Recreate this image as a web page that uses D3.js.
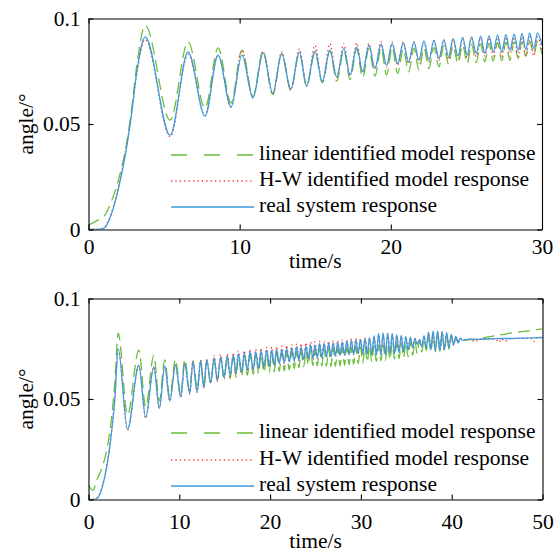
<!DOCTYPE html>
<html>
<head>
<meta charset="utf-8">
<script src="https://cdn.jsdelivr.net/npm/d3@7"></script>
<style>
  body { margin: 0; background: #fff; }
  text { font-family: "Liberation Serif", "Times New Roman", serif; }
</style>
</head>
<body>
<svg id="fig" width="560" height="560"></svg>
<script>
"use strict";

// ---- data (extrema of the oscillations) ----
const series_names = [
  'linear identified model response',
  'H-W identified model response',
  'real system response'
];

// upper panel, time/s
const top_t = [
  0, 0.5, 1.0, 1.5, 2.0, 2.5, 2.8, 3.2,
  3.75, 5.4, 6.59, 7.71, 8.57, 9.43, 10.15, 10.88, 11.55,
  12.19, 12.78, 13.38, 13.95, 14.43, 14.98, 15.47, 15.97, 16.42, 16.89,
  17.30, 17.74, 18.14, 18.55, 18.95, 19.35, 19.72, 20.09, 20.45, 20.82,
  21.18, 21.53, 21.86, 22.19, 22.52, 22.85, 23.18, 23.51, 23.82, 24.12,
  24.44, 24.75, 25.05, 25.34, 25.65, 25.94, 26.22, 26.50, 26.77, 27.06,
  27.34, 27.61, 27.87, 28.16, 28.42, 28.68, 28.93, 29.19, 29.46, 29.70,
  30.0
];
const top_real = [
  0, 0, 0.0005, 0.007, 0.02, 0.038, 0.052, 0.075,
  0.0913, 0.0447, 0.0842, 0.0537, 0.0826, 0.0581, 0.0826, 0.0624, 0.0837,
  0.0645, 0.0834, 0.0664, 0.0842, 0.0681, 0.0847, 0.0700, 0.0850, 0.0723, 0.0858,
  0.0731, 0.0865, 0.0747, 0.0873, 0.0763, 0.0878, 0.0778, 0.0881, 0.0786, 0.0884,
  0.0794, 0.0889, 0.0802, 0.0894, 0.0802, 0.0897, 0.0810, 0.0900, 0.0818, 0.0905,
  0.0821, 0.0910, 0.0826, 0.0913, 0.0834, 0.0916, 0.0834, 0.0918, 0.0841, 0.0921,
  0.0841, 0.0924, 0.0849, 0.0926, 0.0849, 0.0929, 0.0853, 0.0930, 0.0857, 0.0932,
  0.0875
];
const top_linear = [
  0.002, 0.004, 0.006, 0.013, 0.024, 0.040, 0.054, 0.078,
  0.0968, 0.0518, 0.0889, 0.0575, 0.0861, 0.0600, 0.0850, 0.0630, 0.0845,
  0.0640, 0.0832, 0.0660, 0.0838, 0.0680, 0.0840, 0.0695, 0.0848, 0.0703, 0.0850,
  0.0711, 0.0855, 0.0720, 0.0858, 0.0727, 0.0860, 0.0733, 0.0862, 0.0739, 0.0855,
  0.0747, 0.0858, 0.0755, 0.0860, 0.0763, 0.0862, 0.0771, 0.0870, 0.0783, 0.0872,
  0.0787, 0.0875, 0.0787, 0.0877, 0.0791, 0.0880, 0.0794, 0.0882, 0.0798, 0.0885,
  0.0800, 0.0888, 0.0802, 0.0889, 0.0810, 0.0890, 0.0821, 0.0890, 0.0831, 0.0890,
  0.0830
];
const top_hw = [
  0, 0, 0.0008, 0.0075, 0.021, 0.039, 0.053, 0.074,
  0.0900, 0.0440, 0.0830, 0.0540, 0.0826, 0.0580, 0.0850, 0.0624, 0.0845,
  0.0640, 0.0842, 0.0660, 0.0855, 0.0680, 0.0873, 0.0698, 0.0881, 0.0720, 0.0881,
  0.0730, 0.0884, 0.0745, 0.0881, 0.0760, 0.0889, 0.0770, 0.0889, 0.0778, 0.0889,
  0.0785, 0.0890, 0.0790, 0.0890, 0.0795, 0.0895, 0.0800, 0.0897, 0.0805, 0.0900,
  0.0810, 0.0905, 0.0815, 0.0905, 0.0820, 0.0908, 0.0822, 0.0910, 0.0822, 0.0910,
  0.0822, 0.0912, 0.0822, 0.0912, 0.0822, 0.0913, 0.0822, 0.0913, 0.0822, 0.0913,
  0.0840
];

// lower panel, time/s
const bot_t = [
  0, 0.5, 0.9, 1.5, 2.0, 2.5, 2.9,
  3.27, 4.3, 5.54, 6.3, 7.19, 7.8, 8.4, 8.95, 9.58, 10.16, 10.6, 11.15, 11.5, 11.96, 12.36, 12.7,
  13.02, 13.46, 13.83, 14.19, 14.56, 14.93, 15.29, 15.59, 15.95, 16.25,
  16.5, 16.87, 17.16, 17.49, 17.79, 18.15, 18.41, 18.74, 19.0, 19.33,
  19.62, 19.91, 20.18, 20.46, 20.72, 21.01, 21.28, 21.56, 21.82, 22.11,
  22.38, 22.66, 22.92, 23.18, 23.4, 23.7, 23.95, 24.2, 24.46, 24.72,
  24.94,
  25.2, 25.45, 25.7, 25.95, 26.2, 26.45, 26.7, 26.95, 27.2, 27.45,
  27.7, 27.95, 28.2, 28.45, 28.7, 28.95, 29.2, 29.45, 29.7, 29.95,
  30.2, 30.45, 30.7, 30.95, 31.2, 31.45, 31.7, 31.95, 32.2, 32.45,
  32.7, 32.95, 33.2, 33.45, 33.7, 33.95, 34.2, 34.45, 34.7, 34.95,
  35.2, 35.45, 35.7, 35.95, 36.2, 36.45, 36.7, 36.95, 37.2, 37.45,
  37.7, 37.95, 38.2, 38.45, 38.7, 38.95, 39.2, 39.45, 39.7, 39.95,
  40.2, 40.45, 40.7, 40.95, 41.2,
  42.0, 42.6, 43.0, 44.8, 45.2, 45.5, 45.9, 46.3, 48.7, 49.0, 49.3, 50
];
const bot_real = [
  0, 0, 0.0005, 0.006, 0.016, 0.032, 0.05,
  0.0751, 0.0348, 0.0668, 0.0408, 0.066, 0.0453, 0.0663, 0.049, 0.0668, 0.051, 0.0677, 0.0527, 0.0685, 0.0535, 0.069, 0.0555,
  0.0693, 0.058, 0.0706, 0.0594, 0.0709, 0.0607, 0.0713, 0.0618, 0.0718, 0.0627,
  0.0726, 0.0635, 0.0729, 0.0643, 0.0734, 0.0646, 0.0734, 0.0652, 0.0739, 0.066,
  0.0743, 0.0665, 0.0743, 0.0668, 0.0746, 0.0677, 0.0746, 0.068, 0.0751, 0.0685,
  0.0754, 0.069, 0.0759, 0.0693, 0.0759, 0.0697, 0.0763, 0.0701, 0.0768, 0.0701,
  0.0768,
  0.0705, 0.0776, 0.0705, 0.0776, 0.071, 0.0778, 0.071, 0.0779, 0.0715, 0.078,
  0.0718, 0.0784, 0.0718, 0.0788, 0.072, 0.0793, 0.0722, 0.0795, 0.0726, 0.0797,
  0.0726, 0.080, 0.0724, 0.0805, 0.072, 0.0815, 0.0718, 0.0826, 0.0718, 0.0829,
  0.072, 0.0829, 0.0722, 0.0826, 0.0726, 0.082, 0.073, 0.0817, 0.0736, 0.0812,
  0.0743, 0.0808, 0.0755, 0.0801, 0.0772, 0.0795, 0.076, 0.0815, 0.0752, 0.0832,
  0.0745, 0.0839, 0.074, 0.0839, 0.0742, 0.0836, 0.0745, 0.083, 0.0755, 0.0822,
  0.0768, 0.0812, 0.0778, 0.0803, 0.0792,
  0.0798, 0.0797, 0.0797, 0.0800, 0.0800, 0.0801, 0.0801, 0.0801, 0.0804, 0.0804, 0.0805, 0.0806
];
const bot_linear = [
  0.007, 0.0046, 0.0096, 0.016, 0.0245, 0.039, 0.058,
  0.0826, 0.042, 0.0743, 0.046, 0.0718, 0.049, 0.0695, 0.051, 0.0697, 0.052, 0.0697, 0.054, 0.069, 0.055, 0.069, 0.0555,
  0.069, 0.058, 0.070, 0.0592, 0.0705, 0.060, 0.0708, 0.0602, 0.071, 0.0608,
  0.0715, 0.0613, 0.0718, 0.0618, 0.072, 0.0623, 0.0722, 0.0627, 0.0724, 0.063,
  0.0726, 0.0632, 0.0728, 0.0635, 0.073, 0.0638, 0.0731, 0.064, 0.0733, 0.0645,
  0.0735, 0.0652, 0.0737, 0.0655, 0.0738, 0.066, 0.074, 0.0668, 0.0742, 0.0666,
  0.0744,
  0.0665, 0.075, 0.0664, 0.0752, 0.0663, 0.0752, 0.0662, 0.0754, 0.0662, 0.0755,
  0.0665, 0.0756, 0.0668, 0.0757, 0.067, 0.0758, 0.0673, 0.0759, 0.0677, 0.076,
  0.068, 0.0762, 0.0683, 0.0764, 0.0685, 0.0766, 0.0688, 0.0768, 0.069, 0.077,
  0.0693, 0.0772, 0.0696, 0.0774, 0.0699, 0.0776, 0.0701, 0.0778, 0.0705, 0.078,
  0.071, 0.0784, 0.0718, 0.0788, 0.0726, 0.0793, 0.0734, 0.0797, 0.0742, 0.080,
  0.0738, 0.0815, 0.0736, 0.0825, 0.0734, 0.0828, 0.0738, 0.0822, 0.0748, 0.0815,
  0.0765, 0.0805, 0.0785, 0.0797, 0.0793,
  0.0795, 0.0797, 0.080, 0.0815, 0.0818, 0.082, 0.0823, 0.0826, 0.0841, 0.0843, 0.0845, 0.0849
];
const bot_hw = [
  0, 0, 0.0006, 0.0062, 0.0165, 0.0325, 0.0505,
  0.0745, 0.0345, 0.0665, 0.0405, 0.066, 0.0455, 0.0665, 0.049, 0.067, 0.051, 0.068, 0.0525, 0.0688, 0.0533, 0.0695, 0.0553,
  0.0703, 0.0577, 0.0716, 0.0589, 0.072, 0.0601, 0.0725, 0.0613, 0.073, 0.0622,
  0.0738, 0.063, 0.0742, 0.0638, 0.0748, 0.0641, 0.0748, 0.0647, 0.0753, 0.0655,
  0.0757, 0.066, 0.0758, 0.0663, 0.0762, 0.0672, 0.0763, 0.0675, 0.0767, 0.068,
  0.077, 0.0685, 0.0775, 0.0688, 0.0776, 0.0692, 0.078, 0.0696, 0.0784, 0.0696,
  0.0785,
  0.0702, 0.0786, 0.0703, 0.0787, 0.0707, 0.0788, 0.0708, 0.079, 0.0712, 0.0792,
  0.0715, 0.0794, 0.0716, 0.0797, 0.0718, 0.080, 0.072, 0.0801, 0.0722, 0.0802,
  0.0724, 0.0803, 0.0724, 0.0805, 0.0722, 0.0812, 0.0722, 0.082, 0.0722, 0.0822,
  0.0724, 0.0822, 0.0726, 0.082, 0.0728, 0.0816, 0.0732, 0.0814, 0.0738, 0.081,
  0.0745, 0.0806, 0.0756, 0.080, 0.077, 0.0796, 0.0758, 0.0814, 0.075, 0.083,
  0.0745, 0.0836, 0.0742, 0.0836, 0.0743, 0.0834, 0.0746, 0.0828, 0.0756, 0.082,
  0.0768, 0.081, 0.078, 0.0802, 0.0795,
  0.0798, 0.0784, 0.0799, 0.0798, 0.0782, 0.0799, 0.0786, 0.080, 0.0802, 0.0785, 0.0803, 0.0806
];

const top_x_ticks = [0, 10, 20, 30];
const bot_x_ticks = [0, 10, 20, 30, 40, 50];
const y_ticks = [0, 0.05, 0.1];

// ---- style ----
const colors = ['#6abf3a', '#ff3030', '#3d9bdc'];
const plot_dash = ['12,6', '1.3,3', null];
const legend_dash = ['16,17', '1.3,3.1', null];
const font = '"Liberation Serif", "Times New Roman", serif';
const fs = 21.5;

const svg = d3.select('#fig');

const draw_panel = (p) => {
  const x = d3.scaleLinear().domain([0, p.x_max]).range([p.left, p.right]);
  const y = d3.scaleLinear().domain([0, 0.1]).range([p.bottom, p.top]);

  const g = svg.append('g');

  g.append('clipPath').attr('id', p.id + '_clip')
    .append('rect')
    .attr('x', p.left).attr('y', p.top)
    .attr('width', p.right - p.left).attr('height', p.bottom - p.top);

  const line = d3.line()
    .x(d => x(d[0]))
    .y(d => y(d[1]))
    .curve(d3.curveMonotoneX);

  // draw order: linear, H-W, real
  p.series.forEach((vals, i) => {
    const pts = p.t.map((t, k) => [t, vals[k]]).filter(d => d[1] !== undefined);
    g.append('path')
      .datum(pts)
      .attr('clip-path', 'url(#' + p.id + '_clip)')
      .attr('d', line)
      .attr('fill', 'none')
      .attr('stroke', colors[i])
      .attr('stroke-width', 1.3)
      .attr('stroke-dasharray', plot_dash[i]);
  });

  // axes, ticks pointing inside
  const ax_b = g.append('g').attr('transform', `translate(0,${p.bottom})`)
    .call(d3.axisBottom(x).tickValues(p.x_ticks).tickSizeInner(-5).tickSizeOuter(0)
      .tickPadding(p.x_pad).tickFormat(d3.format('d')));
  const ax_t = g.append('g').attr('transform', `translate(0,${p.top})`)
    .call(d3.axisTop(x).tickValues(p.x_ticks).tickSizeInner(-5).tickSizeOuter(0).tickFormat(''));
  const ax_l = g.append('g').attr('transform', `translate(${p.left},0)`)
    .call(d3.axisLeft(y).tickValues(y_ticks).tickSizeInner(-5).tickSizeOuter(0)
      .tickPadding(8).tickFormat(d => d === 0 ? '0' : d3.format('.2~f')(d)));
  const ax_r = g.append('g').attr('transform', `translate(${p.right},0)`)
    .call(d3.axisRight(y).tickValues(y_ticks).tickSizeInner(-5).tickSizeOuter(0).tickFormat(''));

  [ax_b, ax_t, ax_l, ax_r].forEach(a => {
    a.attr('font-family', font).attr('font-size', fs);
    a.selectAll('path,line').attr('stroke', '#000').attr('stroke-width', 1.1);
    a.selectAll('text').attr('fill', '#000');
  });

  // axis labels
  g.append('text')
    .text('time/s')
    .attr('x', (p.left + p.right) / 2)
    .attr('y', p.xlab_y)
    .attr('text-anchor', 'middle')
    .attr('font-size', fs);

  g.append('text')
    .text('angle/°')
    .attr('transform', `translate(33,${(p.top + p.bottom) / 2}) rotate(-90)`)
    .attr('text-anchor', 'middle')
    .attr('font-size', fs);

  // legend
  series_names.forEach((name, i) => {
    const ly = p.legend_y[i];
    g.append('line')
      .attr('x1', 171).attr('x2', 254)
      .attr('y1', ly).attr('y2', ly)
      .attr('stroke', colors[i])
      .attr('stroke-width', 1.3)
      .attr('stroke-dasharray', legend_dash[i]);
    g.append('text')
      .text(name)
      .attr('x', 259)
      .attr('y', ly)
      .attr('dominant-baseline', 'middle')
      .attr('font-size', fs);
  });
};

draw_panel({
  id: 'top',
  left: 88.5, right: 542, top: 18.5, bottom: 229.5,
  x_max: 30, x_ticks: top_x_ticks, x_pad: 9, xlab_y: 268,
  t: top_t,
  series: [top_linear, top_hw, top_real],
  legend_y: [155, 181, 207]
});

draw_panel({
  id: 'bot',
  left: 88.5, right: 542.5, top: 298.5, bottom: 499.5,
  x_max: 50, x_ticks: bot_x_ticks, x_pad: 14, xlab_y: 548,
  t: bot_t,
  series: [bot_linear, bot_hw, bot_real],
  legend_y: [433, 460, 486]
});
</script>
</body>
</html>
